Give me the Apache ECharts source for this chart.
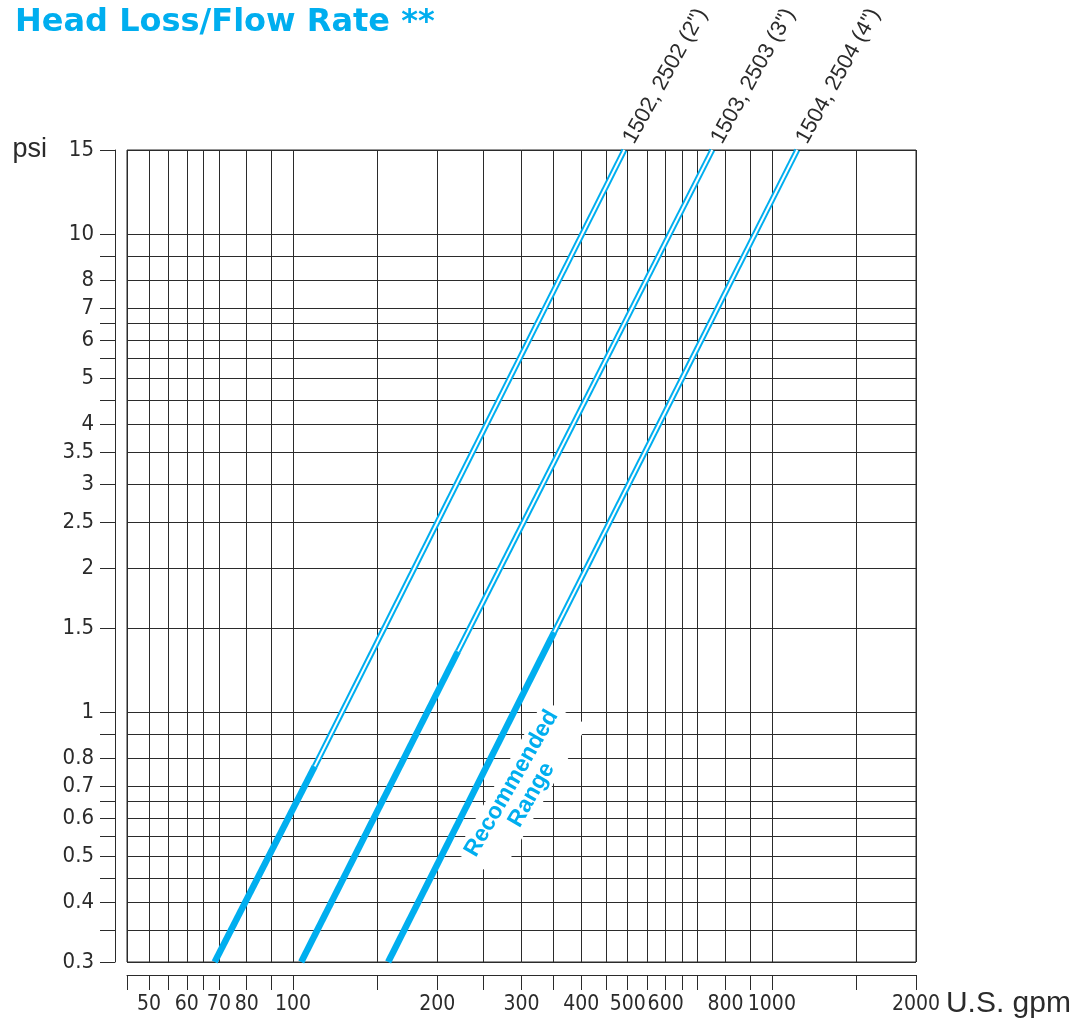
<!DOCTYPE html>
<html><head><meta charset="utf-8">
<script src="https://cdn.jsdelivr.net/npm/echarts@6/dist/echarts.min.js"></script>
<style>html,body{margin:0;padding:0;background:#fff}#main{width:1073px;height:1025px}</style>
</head><body><div id="main"></div>
<script>
// ---- data ----
const titleText = 'Head Loss/Flow Rate **';
const xName = 'U.S. gpm';
const yName = 'psi';
const xGridValues = [45,50,55,60,65,70,80,90,100,150,200,250,300,350,400,450,500,550,600,650,700,800,900,1000,1500,2000];
const xLabelValues = [50,60,70,80,100,200,300,400,500,600,800,1000,2000];
const yGridValues = [0.3,0.35,0.4,0.45,0.5,0.55,0.6,0.65,0.7,0.8,0.9,1,1.5,2,2.5,3,3.5,4,4.5,5,5.5,6,6.5,7,8,9,10,15];
const yLabelValues = [0.3,0.4,0.5,0.6,0.7,0.8,1,1.5,2,2.5,3,3.5,4,5,6,7,8,10,15];
const sizeNames = ['1502, 2502 (2")','1503, 2503 (3")','1504, 2504 (4")'];
const startGpm = [68.6,104,158];
const startPsi = [0.3,0.3,0.3];
const recEndGpm = [111,221,351];
const recEndPsi = [0.77,1.34,1.47];
const endGpm = [492,751,1130];
const endPsi = [15,15,15];
const rangeLabelLines = ['Recommended','Range'];
const rangeLabelGpm = [300];
const rangeLabelPsi = [0.69];

// ---- chart ----
const BLUE = '#00AEEF';
const INK = '#2b2b2b';
const fmt = v => String(+Number(v).toPrecision(6));
const chart = echarts.init(document.getElementById('main'), null, {renderer:'canvas'});

const series = [];
sizeNames.forEach((name, i) => {
  series.push({
    type:'line', name: name + ' recommended', showSymbol:false, symbol:'none', silent:true, z:3,
    data:[[startGpm[i], startPsi[i]],[recEndGpm[i], recEndPsi[i]]],
    lineStyle:{color:BLUE, width:6.5}
  });
  series.push({
    type:'line', name: name + ' outer', showSymbol:false, symbol:'none', silent:true, z:3,
    data:[[recEndGpm[i], recEndPsi[i]],[endGpm[i], endPsi[i]]],
    lineStyle:{color:BLUE, width:6}
  });
  series.push({
    type:'line', name: name + ' inner', showSymbol:false, symbol:'none', silent:true, z:4,
    data:[[recEndGpm[i], recEndPsi[i]],[endGpm[i], endPsi[i]]],
    lineStyle:{color:'#ffffff', width:2}
  });
});
series.push({
  type:'scatter', symbolSize:0, silent:true, clip:false, z:6,
  itemStyle:{opacity:1},
  data: sizeNames.map((n,i)=>({value:[endGpm[i], endPsi[i]], name:n})),
  label:{show:true, position:'inside', formatter: p => p.name, rotate:61, opacity:1,
    align:'left', verticalAlign:'middle', padding:[0,0,0,9],
    color:INK, fontSize:22, fontFamily:'Liberation Sans, Arial, sans-serif'}
});
series.push({
  type:'scatter', symbolSize:0, silent:true, z:5,
  itemStyle:{opacity:1},
  data:[{value:[rangeLabelGpm[0], rangeLabelPsi[0]]}],
  label:{show:true, position:'inside', formatter: rangeLabelLines.join('\n'), rotate:60, opacity:1,
    align:'center', verticalAlign:'middle', color:BLUE, fontWeight:'bold', fontSize:23, lineHeight:23,
    backgroundColor:'#ffffff', padding:[2,6,2,6],
    fontFamily:'Liberation Sans, Arial, sans-serif'}
});

chart.setOption({
  animation:false,
  backgroundColor:'#ffffff',
  title:{text:titleText, left:10, top:2,
    textStyle:{color:BLUE, fontSize:32, fontWeight:'bold', fontFamily:'DejaVu Sans, Liberation Sans, sans-serif'}},
  grid:{left:127, right:157, top:150, bottom:63, containLabel:false, outerBoundsMode:'none',
    show:true, borderColor:INK, borderWidth:1},
  xAxis:{type:'log', logBase:10, min:45, max:2000, offset:13,
    name:xName, nameLocation:'end', nameGap:22,
    nameTextStyle:{color:INK, fontSize:30, fontFamily:'Liberation Sans, Arial, sans-serif', align:'left', verticalAlign:'top', padding:[14,0,0,0]},
    axisLine:{show:true, lineStyle:{color:INK, width:1}},
    axisTick:{show:true, inside:false, length:15, customValues:xGridValues, lineStyle:{color:INK}},
    axisLabel:{show:true, customValues:xLabelValues, margin:19, formatter:fmt, color:INK, fontSize:21,
      fontFamily:'Liberation Sans Narrow, DejaVu Sans Condensed, Liberation Sans, sans-serif'},
    splitLine:{show:true, lineStyle:{color:INK, width:1}},
    minorTick:{show:false}, minorSplitLine:{show:false}
  },
  yAxis:{type:'log', logBase:10, min:0.3, max:15, offset:12,
    name:yName, nameLocation:'end', nameGap:0,
    nameTextStyle:{color:INK, fontSize:27, fontFamily:'Liberation Sans, Arial, sans-serif', align:'right', verticalAlign:'middle', padding:[0,68,6,0]},
    axisLine:{show:true, lineStyle:{color:INK, width:1}},
    axisTick:{show:true, inside:false, length:15, customValues:yGridValues, lineStyle:{color:INK}},
    axisLabel:{show:true, customValues:yLabelValues, margin:21, formatter:fmt, color:INK, fontSize:22,
      fontFamily:'Liberation Sans Narrow, DejaVu Sans Condensed, Liberation Sans, sans-serif'},
    splitLine:{show:true, lineStyle:{color:INK, width:1}},
    minorTick:{show:false}, minorSplitLine:{show:false}
  },
  series: series
});
</script>
</body></html>
